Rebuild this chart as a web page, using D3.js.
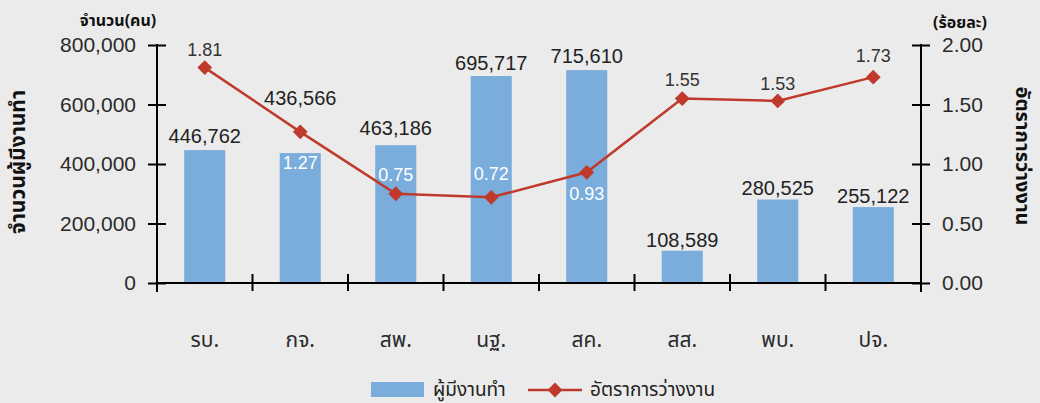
<!DOCTYPE html>
<html>
<head>
<meta charset="utf-8">
<script src="https://cdn.jsdelivr.net/npm/d3@7"></script>
<style>
  html, body { margin: 0; padding: 0; background: #ebebeb; }
  svg { display: block; font-family: "Liberation Sans", "Noto Sans", "Noto Sans Thai", sans-serif; }
</style>
</head>
<body>
<svg id="chart" width="1040" height="403"></svg>
<script>
// ---- data ----
const categories = ["รบ.", "กจ.", "สพ.", "นฐ.", "สค.", "สส.", "พบ.", "ปจ."];
const employed = [446762, 436566, 463186, 695717, 715610, 108589, 280525, 255122];
const unemploymentRate = [1.81, 1.27, 0.75, 0.72, 0.93, 1.55, 1.53, 1.73];
const leftTicks = [0, 200000, 400000, 600000, 800000];
const rightTicks = [0, 0.5, 1.0, 1.5, 2.0];
const seriesNames = ["ผู้มีงานทำ", "อัตราการว่างงาน"];
const leftTitle = "จำนวนผู้มีงานทำ";
const rightTitle = "อัตราการว่างงาน";
const leftUnit = "จำนวน(คน)";
const rightUnit = "(ร้อยละ)";

// ---- layout (label offsets, px) ----
const barLabelDy = [-7, -48, -10, -6, -7, -4, -5, -4];       // baseline relative to bar top
const rateLabelDy = [-12, 37, -13, -17, 28, -13, -11, -15];   // baseline relative to point
const rateLabelInside = [false, true, true, true, true, false, false, false];

const barColor = "#7aaddc";
const lineColor = "#bf3a2c";

const svg = d3.select("#chart");
const x0 = 157, x1 = 921, yBase = 283, yTop = 45;

const x = d3.scaleBand().domain(categories).range([x0, x1]).paddingInner(0).paddingOuter(0);
const yL = d3.scaleLinear().domain([0, 800000]).range([yBase, yTop]);
const yR = d3.scaleLinear().domain([0, 2]).range([yBase, yTop]);
const barW = x.bandwidth() * 0.43;
const cx = d => x(d) + x.bandwidth() / 2;

// bars
svg.append("g").selectAll("rect").data(categories).join("rect")
  .attr("x", (d) => cx(d) - barW / 2)
  .attr("width", barW)
  .attr("y", (d, i) => yL(employed[i]))
  .attr("height", (d, i) => yBase - yL(employed[i]))
  .attr("fill", barColor);

// axes
const fmt = d3.format(",");
const axL = svg.append("g").attr("transform", `translate(${x0},0)`)
  .call(d3.axisLeft(yL).tickValues(leftTicks).tickFormat(v => fmt(v)).tickSize(9).tickPadding(12));
axL.selectAll(".tick line").attr("x2", 9).attr("x1", -9);
const axR = svg.append("g").attr("transform", `translate(${x1},0)`)
  .call(d3.axisRight(yR).tickValues(rightTicks).tickFormat(d3.format(".2f")).tickSize(9).tickPadding(12));
axR.selectAll(".tick line").attr("x1", -9).attr("x2", 9);
[axL, axR].forEach(a => {
  a.select(".domain").remove();
  a.selectAll(".tick line").attr("stroke", "#000").attr("stroke-width", 2);
  a.selectAll(".tick text").attr("font-size", 21).attr("fill", "#2a2a2a")
    .attr("font-family", "'Liberation Sans', sans-serif");
});
// vertical axis lines
svg.append("line").attr("x1", x0).attr("x2", x0).attr("y1", yTop - 1).attr("y2", yBase + 9)
  .attr("stroke", "#000").attr("stroke-width", 2);
svg.append("line").attr("x1", x1).attr("x2", x1).attr("y1", yTop - 1).attr("y2", yBase + 9)
  .attr("stroke", "#000").attr("stroke-width", 2);

// x axis
const thaiFont = "'Noto Sans Thai','Noto Sans','Liberation Sans',sans-serif";
const axB = svg.append("g").attr("transform", `translate(0,${yBase})`)
  .call(d3.axisBottom(x).tickSize(0).tickFormat(d => d));
axB.select(".domain").remove();
axB.selectAll(".tick text").attr("font-size", 21).attr("fill", "#2a2a2a").attr("y", 49)
  .attr("font-family", thaiFont);
svg.append("line").attr("x1", x0).attr("x2", x1).attr("y1", yBase).attr("y2", yBase)
  .attr("stroke", "#000").attr("stroke-width", 2);
const bounds = categories.map(c => x(c)).slice(1);
svg.append("g").selectAll("line").data(bounds).join("line")
  .attr("x1", d => d).attr("x2", d => d).attr("y1", yBase - 9).attr("y2", yBase + 8)
  .attr("stroke", "#000").attr("stroke-width", 2);

// line
const line = d3.line().x((d, i) => cx(categories[i])).y(d => yR(d));
svg.append("path").datum(unemploymentRate).attr("d", line)
  .attr("fill", "none").attr("stroke", lineColor).attr("stroke-width", 2.5);
svg.append("g").selectAll("path").data(unemploymentRate).join("path")
  .attr("d", d3.symbol().type(d3.symbolSquare).size(110))
  .attr("transform", (d, i) => `translate(${cx(categories[i])},${yR(d)}) rotate(45)`)
  .attr("fill", lineColor);

// bar labels
svg.append("g").selectAll("text").data(employed).join("text")
  .attr("x", (d, i) => cx(categories[i]))
  .attr("y", (d, i) => yL(d) + barLabelDy[i])
  .attr("text-anchor", "middle").attr("font-size", 20).attr("fill", "#222")
  .text(d => fmt(d));

// rate labels
svg.append("g").selectAll("text").data(unemploymentRate).join("text")
  .attr("x", (d, i) => cx(categories[i]))
  .attr("y", (d, i) => yR(d) + rateLabelDy[i])
  .attr("text-anchor", "middle").attr("font-size", 18)
  .attr("fill", (d, i) => rateLabelInside[i] ? "#ffffff" : "#333")
  .text(d => d3.format(".2f")(d));

// titles
svg.append("text").attr("transform", "translate(25,162) rotate(-90)")
  .attr("text-anchor", "middle").attr("font-size", 21).attr("font-weight", "bold")
  .attr("font-family", thaiFont).attr("fill", "#111").text(leftTitle);
svg.append("text").attr("transform", "translate(1016,156) rotate(90)")
  .attr("text-anchor", "middle").attr("font-size", 20).attr("font-weight", "bold")
  .attr("font-family", thaiFont).attr("fill", "#111").text(rightTitle);
svg.append("text").attr("x", 118).attr("y", 26).attr("text-anchor", "middle")
  .attr("font-size", 16).attr("font-weight", "bold").attr("font-family", thaiFont)
  .attr("fill", "#111").text(leftUnit);
svg.append("text").attr("x", 960).attr("y", 28).attr("text-anchor", "middle")
  .attr("font-size", 16).attr("font-weight", "bold").attr("font-family", thaiFont)
  .attr("fill", "#111").text(rightUnit);

// legend
const lg = svg.append("g");
lg.append("rect").attr("x", 371).attr("y", 382).attr("width", 53).attr("height", 15).attr("fill", barColor);
lg.append("text").attr("x", 433).attr("y", 396).attr("font-size", 19).attr("font-family", thaiFont)
  .attr("fill", "#222").text(seriesNames[0]);
lg.append("line").attr("x1", 528).attr("x2", 582).attr("y1", 390).attr("y2", 390)
  .attr("stroke", lineColor).attr("stroke-width", 2.5);
lg.append("path").attr("d", d3.symbol().type(d3.symbolSquare).size(110))
  .attr("transform", "translate(555,390) rotate(45)").attr("fill", lineColor);
lg.append("text").attr("x", 590).attr("y", 396).attr("font-size", 19).attr("font-family", thaiFont)
  .attr("fill", "#222").text(seriesNames[1]);
</script>
</body>
</html>
